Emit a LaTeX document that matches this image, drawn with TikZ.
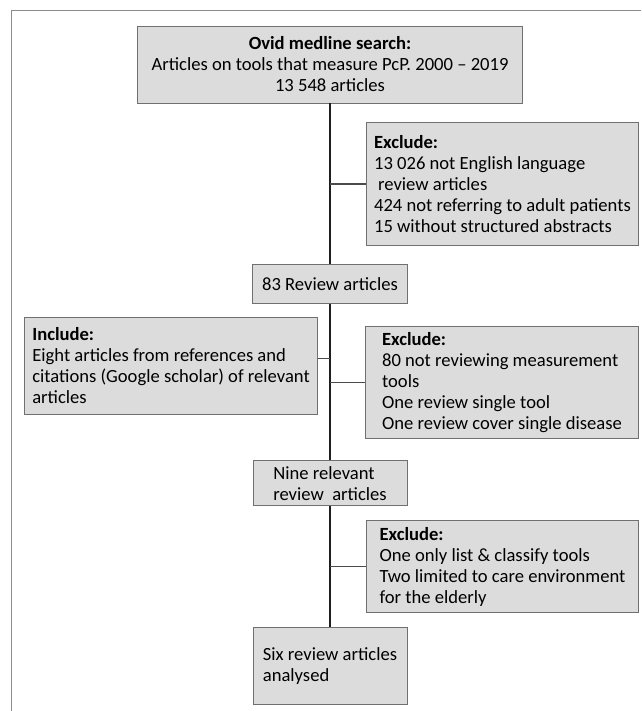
\documentclass[tikz,border=0pt]{standalone}
\usepackage{fontspec}
\setmainfont{Carlito}
\usepackage{xcolor}
\usepackage{tikz}
\usetikzlibrary{positioning,calc}
\definecolor{prismaBorder}{HTML}{707070}
\definecolor{prismaFill}{HTML}{DCDCDD}
\definecolor{prismaFrame}{HTML}{8C8C8C}
\definecolor{prismaLine}{HTML}{1E1E1E}
\tikzset{
    flowbox/.style={draw=prismaBorder, fill=prismaFill, line width=0.9pt, inner sep=0pt, align=left, font=\fontsize{18.6}{21}\selectfont},
    spine/.style={draw=prismaLine, line width=1.4pt},
    branch/.style={draw=prismaLine!80, line width=1.2pt}
}

\begin{document}
\begin{tikzpicture}
                \useasboundingbox (0,0) rectangle (641pt,-711pt);
                % outer frame, cut by the page edge
                \draw[prismaFrame, line width=1pt] (11pt,-711pt) |- (641pt,-11pt);

                \node[flowbox, align=center, minimum width=385pt, minimum height=77pt] (search) at (330pt,-64.5pt) {\textbf{Ovid medline search:}\\Articles on tools that measure PcP. 2000 – 2019\\13 548 articles};
                \node[flowbox, align=center, below=161pt of search, minimum width=155pt, minimum height=39pt] (reviews) {83 Review articles};
                \node[flowbox, below=156pt of reviews, minimum width=154pt, minimum height=45pt] (relevant) {Nine relevant\\review~ articles};
                \node[flowbox, below=121pt of relevant, minimum width=154pt, minimum height=77pt] (analysed) {Six review articles\\analysed};

                \coordinate (jA) at ($(search.south)!0.5!(reviews.north)$);
                \coordinate (jB) at ($(reviews.south)!0.5!(relevant.north)$);
                \coordinate (jC) at ($(relevant.south)!0.5!(analysed.north)$);

                \node[flowbox, right=36pt of jA, minimum width=272pt, minimum height=122pt] (excludeLang) {\textbf{Exclude:}\\13 026 not English language\\\hspace*{4pt}review articles\\424 not referring to adult patients\\15 without structured abstracts};
                \node[flowbox, right=35pt of jB, minimum width=273pt, minimum height=112pt] (excludeScope) {\textbf{Exclude:}\\80 not reviewing measurement\\tools\\One review single tool\\One review cover single disease};
                \node[flowbox, left=12pt of jB, yshift=16.5pt, minimum width=293pt, minimum height=97pt] (include) {\textbf{Include:}\\Eight articles from references and\\citations (Google scholar) of relevant\\articles};
                \node[flowbox, right=36pt of jC, minimum width=272pt, minimum height=92pt] (excludeSetting) {\textbf{Exclude:}\\One only list \& classify tools\\Two limited to care environment\\for the elderly};

                \draw[spine] (search) -- (reviews);
                \draw[spine] (reviews) -- (relevant);
                \draw[spine] (relevant) -- (analysed);
                \coordinate (inc) at ([yshift=7.5pt]include.east);
                \draw[branch] (inc) -- (inc -| jB);
                \draw[branch] (jA) -- (excludeLang);
                \draw[branch] (jB) -- (excludeScope);
                \draw[branch] (jC) -- (excludeSetting);
\end{tikzpicture}
\end{document}
